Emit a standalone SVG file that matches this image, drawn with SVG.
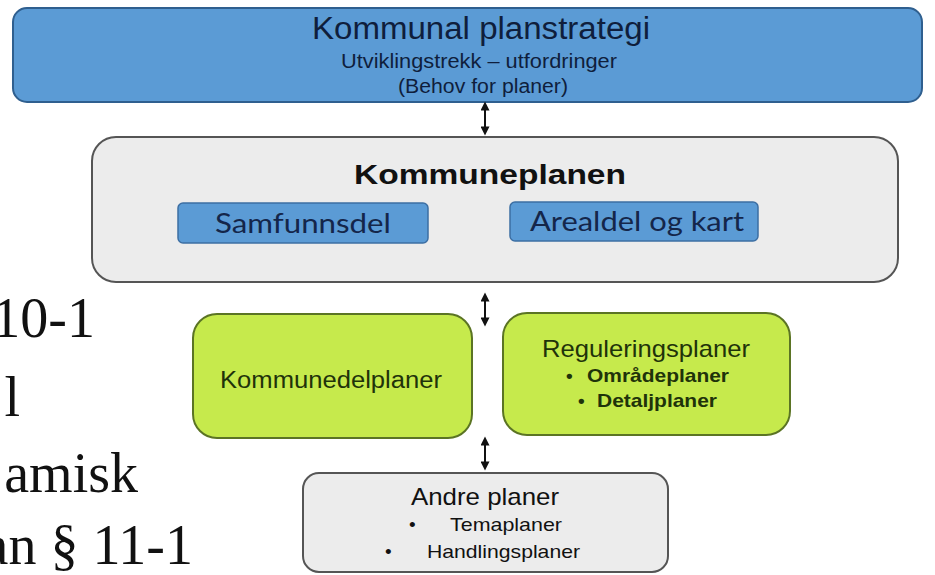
<svg xmlns="http://www.w3.org/2000/svg" width="935" height="575" viewBox="0 0 935 575">
<defs>
<marker id="ah" viewBox="0 0 10 10" refX="5" refY="5" markerWidth="5" markerHeight="4.5" orient="auto-start-reverse">
<path d="M0,0 L10,5 L0,10 z" fill="#111"/>
</marker>
<style>
.sans{font-family:"Liberation Sans",Arial,sans-serif}
.cal{font-family:Lato,"Open Sans",sans-serif}
.serif{font-family:"Liberation Serif","DejaVu Serif",serif;font-size:56px;fill:#111}
.blue{fill:#5b9bd5;stroke:#2f5f8f;stroke-width:2}
.sub{fill:#5b9bd5;stroke:#3d6fa3;stroke-width:1.5}
.gray{fill:#ececec;stroke:#555;stroke-width:2}
.green{fill:#c6ea4c;stroke:#5b7424;stroke-width:2}
.conn{stroke:#111;stroke-width:2;fill:none}
.navy{fill:#0f1e3c}
.dg{fill:#1f330a}
</style>
</defs>
<rect width="935" height="575" fill="#fff"/>
<g id="left-text">
<text class="serif" x="95" y="337" text-anchor="end">10-1</text>
<text class="serif" x="20" y="416" text-anchor="end">l</text>
<text class="serif" x="138" y="492" text-anchor="end">amisk</text>
<text class="serif" x="193" y="564" text-anchor="end">an § 11-1</text>
</g>
<g id="planstrategi">
<rect class="blue" x="13" y="8" width="909" height="94" rx="14"/>
<text class="sans navy" x="481" y="39" text-anchor="middle" font-size="31" textLength="338" lengthAdjust="spacingAndGlyphs">Kommunal planstrategi</text>
<text class="sans navy" x="479" y="68" text-anchor="middle" font-size="20" textLength="276" lengthAdjust="spacingAndGlyphs">Utviklingstrekk – utfordringer</text>
<text class="sans navy" x="483" y="93" text-anchor="middle" font-size="20" textLength="170" lengthAdjust="spacingAndGlyphs">(Behov for planer)</text>
</g>
<g id="kommuneplanen">
<rect class="gray" x="92" y="137" width="806" height="145" rx="24"/>
<text class="sans" x="490" y="184" text-anchor="middle" font-size="28" font-weight="bold" fill="#111" textLength="272" lengthAdjust="spacingAndGlyphs">Kommuneplanen</text>
</g>
<g id="samfunnsdel">
<rect class="sub" x="178" y="203" width="250" height="40" rx="5"/>
<text class="cal" x="303" y="233" text-anchor="middle" font-size="26" fill="#14264a" textLength="176" lengthAdjust="spacingAndGlyphs">Samfunnsdel</text>
</g>
<g id="arealdel">
<rect class="sub" x="510" y="202" width="248" height="39" rx="5"/>
<text class="cal" x="637" y="231" text-anchor="middle" font-size="26" fill="#14264a" textLength="214" lengthAdjust="spacingAndGlyphs">Arealdel og kart</text>
</g>
<g id="kommunedelplaner">
<rect class="green" x="193" y="314" width="279" height="124" rx="24"/>
<text class="sans dg" x="331" y="388" text-anchor="middle" font-size="23" textLength="222" lengthAdjust="spacingAndGlyphs">Kommunedelplaner</text>
</g>
<g id="reguleringsplaner">
<rect class="green" x="503" y="313" width="287" height="122" rx="24"/>
<text class="sans dg" x="646" y="357" text-anchor="middle" font-size="24" textLength="208" lengthAdjust="spacingAndGlyphs">Reguleringsplaner</text>
<text class="sans dg" x="566" y="382" font-size="19" font-weight="bold">•</text>
<text class="sans dg" x="587" y="382" font-size="19" font-weight="bold" textLength="142" lengthAdjust="spacingAndGlyphs">Områdeplaner</text>
<text class="sans dg" x="578" y="407" font-size="19" font-weight="bold">•</text>
<text class="sans dg" x="597" y="407" font-size="19" font-weight="bold" textLength="120" lengthAdjust="spacingAndGlyphs">Detaljplaner</text>
</g>
<g id="andre">
<rect class="gray" x="303" y="473" width="365" height="99" rx="16"/>
<text class="sans" x="485" y="505" text-anchor="middle" font-size="24" fill="#111" textLength="148" lengthAdjust="spacingAndGlyphs">Andre planer</text>
<text class="sans" x="409" y="531" font-size="19" fill="#111">•</text>
<text class="sans" x="450" y="531" font-size="19" fill="#111" textLength="112" lengthAdjust="spacingAndGlyphs">Temaplaner</text>
<text class="sans" x="385" y="558" font-size="19" fill="#111">•</text>
<text class="sans" x="427" y="558" font-size="19" fill="#111" textLength="153" lengthAdjust="spacingAndGlyphs">Handlingsplaner</text>
</g>
<g id="connectors">
<line class="conn" x1="485" y1="106" x2="485" y2="131" marker-start="url(#ah)" marker-end="url(#ah)"/>
<line class="conn" x1="485" y1="297" x2="485" y2="322" marker-start="url(#ah)" marker-end="url(#ah)"/>
<line class="conn" x1="485" y1="441" x2="485" y2="466" marker-start="url(#ah)" marker-end="url(#ah)"/>
</g>
</svg>
